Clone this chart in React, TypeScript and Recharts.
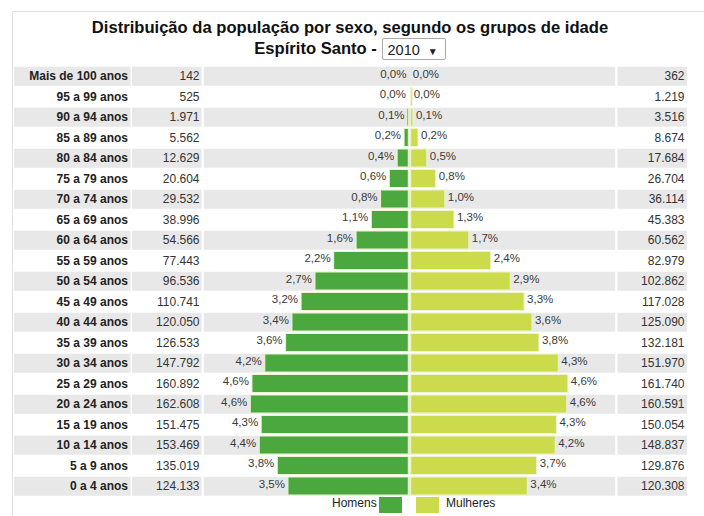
import React from "react";
import { BarChart, Bar, XAxis, YAxis, ReferenceArea, LabelList } from "recharts";

const ageGroups = [
  "Mais de 100 anos",
  "95 a 99 anos",
  "90 a 94 anos",
  "85 a 89 anos",
  "80 a 84 anos",
  "75 a 79 anos",
  "70 a 74 anos",
  "65 a 69 anos",
  "60 a 64 anos",
  "55 a 59 anos",
  "50 a 54 anos",
  "45 a 49 anos",
  "40 a 44 anos",
  "35 a 39 anos",
  "30 a 34 anos",
  "25 a 29 anos",
  "20 a 24 anos",
  "15 a 19 anos",
  "10 a 14 anos",
  "5 a 9 anos",
  "0 a 4 anos",
];

const menCounts = [
  142, 525, 1971, 5562, 12629, 20604, 29532, 38996, 54566, 77443, 96536,
  110741, 120050, 126533, 147792, 160892, 162608, 151475, 153469, 135019,
  124133,
];

const womenCounts = [
  362, 1219, 3516, 8674, 17684, 26704, 36114, 45383, 60562, 82979, 102862,
  117028, 125090, 132181, 151970, 161740, 160591, 150054, 148837, 129876,
  120308,
];

const yearOptions = ["2010"];

const GREEN = "#4ba83f";
const YELLOW = "#cbdb4b";
const STRIPE = "#e8e8e8";
const FONT = "'Liberation Sans', Arial, Helvetica, sans-serif";

const total =
  menCounts.reduce((a, b) => a + b, 0) + womenCounts.reduce((a, b) => a + b, 0);

const data = ageGroups.map((age, i) => ({
  age,
  menCount: menCounts[i],
  womenCount: womenCounts[i],
  men: -(menCounts[i] / total) * 100,
  women: (womenCounts[i] / total) * 100,
}));

const fmtCount = (n: number) =>
  String(n).replace(/\B(?=(\d{3})+(?!\d))/g, ".");
const fmtPct = (v: number) => Math.abs(v).toFixed(1).replace(".", ",") + "%";

function RowTick(props: any) {
  const { y, payload } = props;
  const i = ageGroups.indexOf(payload.value);
  const row = data[i];
  const grey = i % 2 === 0;
  const h = 19;
  return (
    <g>
      {grey && (
        <>
          <rect x={14} y={y - h / 2} width={116.5} height={h} fill={STRIPE} />
          <rect x={132} y={y - h / 2} width={69.5} height={h} fill={STRIPE} />
          <rect x={617.5} y={y - h / 2} width={69.5} height={h} fill={STRIPE} />
        </>
      )}
      <text
        x={128}
        y={y}
        dy={4}
        textAnchor="end"
        fontFamily={FONT}
        fontSize={12}
        fontWeight="bold"
        fill="#222"
      >
        {payload.value}
      </text>
      <text x={199.5} y={y} dy={4} textAnchor="end" fontFamily={FONT} fontSize={12} fill="#333">
        {fmtCount(row.menCount)}
      </text>
      <text x={684.5} y={y} dy={4} textAnchor="end" fontFamily={FONT} fontSize={12} fill="#333">
        {fmtCount(row.womenCount)}
      </text>
    </g>
  );
}

function makeShape(side: "men" | "women") {
  return (props: any) => {
    const { x, y, width, height, fill } = props;
    const left = Math.min(x, x + width);
    const w = Math.abs(width);
    if (w < 1) return null;
    const dw = Math.max(w - 1.2, 1.5);
    const rx = side === "men" ? left + w - 1.2 - dw : left + 1.2;
    return (
      <rect
        x={rx}
        y={y}
        width={dw}
        height={height}
        fill={fill}
        stroke="#eef3d2"
        strokeWidth={1}
      />
    );
  };
}

function makeLabel(side: "men" | "women") {
  return (props: any) => {
    const vb = props.viewBox ?? props;
    const { x, y, width, height } = vb;
    const left = Math.min(x, x + width);
    const right = Math.max(x, x + width);
    const tx = side === "men" ? left - 3 : right + 3;
    return (
      <text
        x={tx}
        y={y + height / 2 - 2.5}
        dy={4}
        textAnchor={side === "men" ? "end" : "start"}
        fontFamily={FONT}
        fontSize={11.5}
        fill="#3a3a3a"
      >
        {fmtPct(props.value)}
      </text>
    );
  };
}

export default function App() {
  return (
    <div
      style={{
        position: "absolute",
        left: 0,
        top: 0,
        width: 704,
        height: 516,
        background: "#fff",
        overflow: "hidden",
        fontFamily: FONT,
      }}
    >
      <div
        style={{
          position: "absolute",
          left: 12,
          top: 11,
          width: 720,
          height: 540,
          borderLeft: "1px solid #e2e2e2",
          borderTop: "1px solid #e2e2e2",
        }}
      />
      <div
        style={{
          position: "absolute",
          left: 0,
          top: 18,
          width: 704,
          textAlign: "center",
          fontSize: 16.6,
          fontWeight: "bold",
          color: "#111",
          lineHeight: "19px",
          paddingRight: 4,
          boxSizing: "border-box",
        }}
      >
        Distribuição da população por sexo, segundo os grupos de idade
      </div>
      <div
        style={{
          position: "absolute",
          left: 0,
          top: 37,
          width: 704,
          display: "flex",
          justifyContent: "center",
          alignItems: "center",
          fontSize: 16.6,
          fontWeight: "bold",
          color: "#111",
          height: 23,
          paddingRight: 4,
          boxSizing: "border-box",
        }}
      >
        <span>Espírito Santo -&nbsp;</span>
        <span
          style={{
            display: "inline-block",
            border: "1px solid #a9a9a9",
            borderRadius: 2,
            height: 22,
            lineHeight: "22px",
            padding: "0 7px 0 5px",
            fontWeight: "normal",
            fontSize: 14.5,
            color: "#222",
            boxSizing: "border-box",
          }}
        >
          {yearOptions[0]}&nbsp;&nbsp;<span style={{ fontSize: 10 }}>▼</span>
        </span>
      </div>

      <div style={{ position: "absolute", left: 0, top: 0 }}>
        <BarChart
          width={704}
          height={516}
          data={data}
          layout="vertical"
          stackOffset="sign"
          barSize={18}
          margin={{ top: 66, right: 88, bottom: 19.5, left: 0 }}
        >
          <XAxis type="number" domain={[-6, 6]} hide allowDataOverflow />
          <YAxis
            type="category"
            dataKey="age"
            width={203}
            axisLine={false}
            tickLine={false}
            interval={0}
            tick={<RowTick />}
          />
          {ageGroups
            .filter((_, i) => i % 2 === 0)
            .map((age) => (
              <ReferenceArea
                key={age}
                y1={age}
                y2={age}
                fill={STRIPE}
                fillOpacity={1}
                stroke="#fff"
                strokeWidth={1.5}
                ifOverflow="visible"
              />
            ))}
          <Bar
            dataKey="men"
            stackId="pop"
            fill={GREEN}
            shape={makeShape("men")}
            isAnimationActive={false}
          >
            <LabelList dataKey="men" content={makeLabel("men")} />
          </Bar>
          <Bar
            dataKey="women"
            stackId="pop"
            fill={YELLOW}
            shape={makeShape("women")}
            isAnimationActive={false}
          >
            <LabelList dataKey="women" content={makeLabel("women")} />
          </Bar>
        </BarChart>
      </div>

      <div
        style={{
          position: "absolute",
          top: 496,
          left: 0,
          width: 704,
          height: 17,
          fontSize: 12,
          color: "#222",
        }}
      >
        <span style={{ position: "absolute", left: 332, top: 0, lineHeight: "15px" }}>Homens</span>
        <span
          style={{
            position: "absolute",
            left: 379,
            top: 1,
            width: 23,
            height: 16,
            background: GREEN,
          }}
        />
        <span
          style={{
            position: "absolute",
            left: 416,
            top: 1,
            width: 23,
            height: 16,
            background: YELLOW,
          }}
        />
        <span style={{ position: "absolute", left: 446, top: 0, lineHeight: "15px" }}>Mulheres</span>
      </div>
    </div>
  );
}
